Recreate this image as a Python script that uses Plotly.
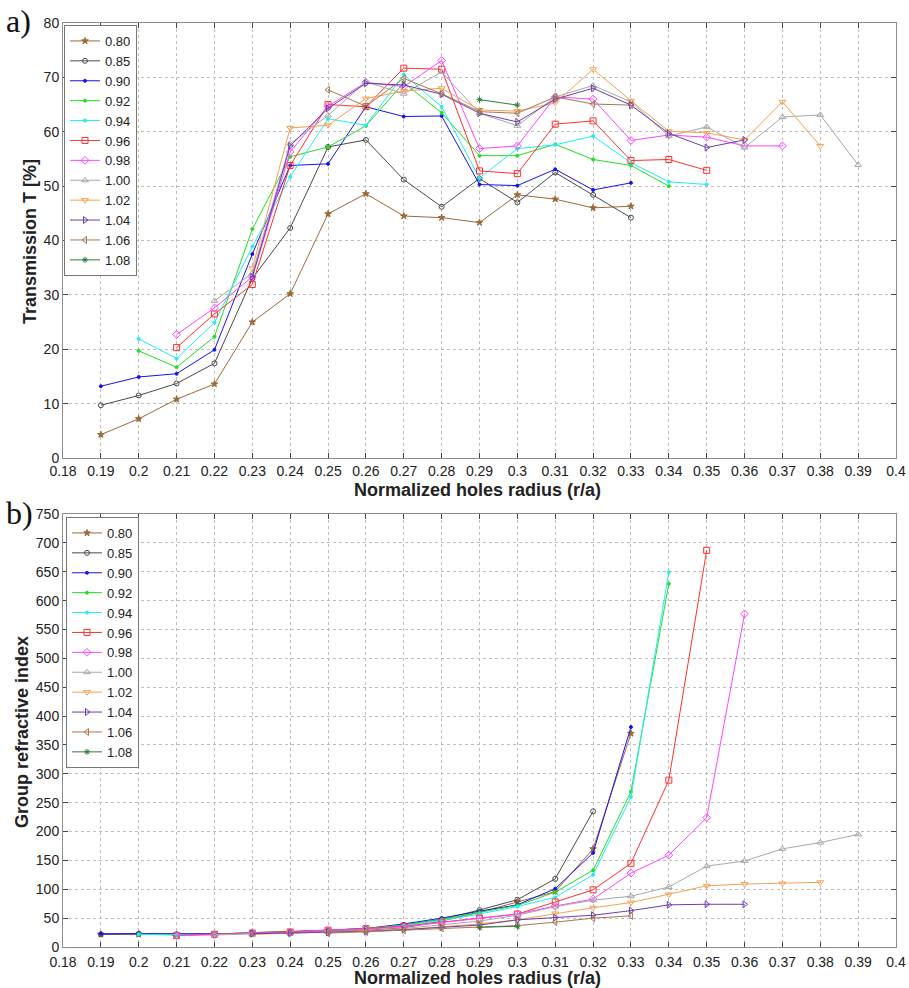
import plotly.graph_objects as go

# ---------------- data ----------------
r_values = [0.19, 0.20, 0.21, 0.22, 0.23, 0.24, 0.25, 0.26, 0.27, 0.28, 0.29,
            0.30, 0.31, 0.32, 0.33, 0.34, 0.35, 0.36, 0.37, 0.38, 0.39]

series_names = ["0.80", "0.85", "0.90", "0.92", "0.94", "0.96", "0.98",
                "1.00", "1.02", "1.04", "1.06", "1.08"]

# (a) Transmission T [%]  -- first radius of each series
T_start = {"0.80": 0.19, "0.85": 0.19, "0.90": 0.19, "0.92": 0.20, "0.94": 0.20,
           "0.96": 0.21, "0.98": 0.21, "1.00": 0.22, "1.02": 0.23, "1.04": 0.23,
           "1.06": 0.25, "1.08": 0.29}
T_080 = [4.3, 7.2, 10.8, 13.6, 25.0, 30.2, 44.9, 48.6, 44.5, 44.2, 43.3, 48.4, 47.6, 46.0, 46.3]
T_085 = [9.7, 11.5, 13.7, 17.4, 33.0, 42.3, 57.2, 58.5, 51.2, 46.2, 51.4, 47.0, 52.5, 48.4, 44.2]
T_090 = [13.2, 14.9, 15.5, 19.9, 37.5, 53.8, 54.1, 64.6, 62.8, 62.9, 50.3, 50.1, 53.1, 49.3, 50.6]
T_092 = [19.7, 16.7, 22.3, 42.1, 55.4, 57.2, 61.1, 69.0, 63.5, 55.6, 55.6, 57.7, 54.9, 53.8, 50.0]
T_094 = [21.9, 18.3, 24.9, 38.9, 51.7, 62.4, 61.2, 70.5, 64.6, 51.5, 56.9, 57.6, 59.2, 54.3, 50.8, 50.3]
T_096 = [20.3, 26.5, 31.9, 53.8, 65.0, 64.6, 71.7, 71.5, 52.8, 52.3, 61.4, 62.0, 54.7, 54.9, 52.9]
T_098 = [22.7, 27.6, 33.3, 56.3, 64.7, 69.1, 68.3, 73.1, 56.9, 57.4, 66.4, 66.0, 58.4, 59.4, 59.0, 57.4, 57.4]
T_100 = [28.9, 34.0, 57.8, 63.0, 69.2, 67.0, 71.0, 63.4, 61.1, 66.4, 68.5, 65.5, 59.2, 60.9, 57.1, 62.7, 63.1, 53.9]
T_102 = [34.9, 60.7, 61.2, 66.1, 67.5, 68.0, 64.0, 63.8, 65.3, 71.5, 65.7, 60.1, 59.8, 58.5, 65.5, 57.4]
T_104 = [33.3, 57.4, 64.3, 68.9, 68.6, 66.9, 63.4, 61.8, 66.0, 68.0, 64.9, 59.7, 57.1, 58.5]
T_106 = [67.7, 64.7, 69.8, 67.0, 63.7, 63.4, 66.4, 65.1, 64.9]
T_108 = [65.9, 64.9]

# (b) Group refractive index
N_start = {"0.80": 0.19, "0.85": 0.19, "0.90": 0.19, "0.92": 0.20, "0.94": 0.20,
           "0.96": 0.21, "0.98": 0.21, "1.00": 0.22, "1.02": 0.23, "1.04": 0.23,
           "1.06": 0.25, "1.08": 0.29}
N_080 = [22, 22, 21, 22, 24, 25, 27, 29, 33, 45, 60, 78, 96, 170, 370]
N_085 = [22, 23, 22, 22, 25, 26, 28, 31, 38, 48, 64, 82, 118, 235]
N_090 = [23, 23, 22, 23, 24, 27, 29, 32, 40, 50, 62, 73, 101, 163, 381]
N_092 = [22, 21, 22, 25, 26, 29, 32, 38, 48, 60, 72, 95, 133, 269, 629]
N_094 = [22, 21, 22, 25, 26, 28, 31, 37, 46, 57, 70, 86, 125, 260, 649]
N_096 = [20, 22, 24, 26, 29, 32, 36, 43, 50, 57, 78, 99, 145, 289, 687]
N_098 = [20, 21, 24, 25, 29, 31, 35, 42, 49, 57, 71, 83, 128, 159, 224, 577]
N_100 = [21, 22, 24, 26, 28, 32, 38, 45, 55, 70, 81, 88, 104, 140, 149, 170, 181, 195]
N_102 = [22, 24, 25, 27, 30, 35, 40, 47, 58, 68, 77, 91, 106, 109, 110, 112]
N_104 = [23, 24, 25, 27, 30, 34, 38, 47, 51, 55, 63, 73, 74, 74]
N_106 = [24, 26, 29, 32, 35, 37, 43, 50, 54]
N_108 = [34, 36]

T_data = [T_080, T_085, T_090, T_092, T_094, T_096, T_098, T_100, T_102, T_104, T_106, T_108]
N_data = [N_080, N_085, N_090, N_092, N_094, N_096, N_098, N_100, N_102, N_104, N_106, N_108]

x_tick_vals = [0.18, 0.19, 0.20, 0.21, 0.22, 0.23, 0.24, 0.25, 0.26, 0.27, 0.28,
               0.29, 0.30, 0.31, 0.32, 0.33, 0.34, 0.35, 0.36, 0.37, 0.38, 0.39, 0.40]
x_tick_text = ["0.18", "0.19", "0.2", "0.21", "0.22", "0.23", "0.24", "0.25", "0.26",
               "0.27", "0.28", "0.29", "0.3", "0.31", "0.32", "0.33", "0.34", "0.35",
               "0.36", "0.37", "0.38", "0.39", "0.4"]
T_ticks = [0, 10, 20, 30, 40, 50, 60, 70, 80]
N_ticks = [0, 50, 100, 150, 200, 250, 300, 350, 400, 450, 500, 550, 600, 650, 700, 750]

# ---------------- styles ----------------
colors = ["#9C6A3A", "#4A4A4A", "#1414F0", "#22DD22", "#22EEEE", "#FF3030",
          "#FF44FF", "#A8A8A8", "#F5A050", "#6A3DB0", "#A87850", "#2E7D3A"]
symbols = ["star", "circle-open", "circle", "circle", "circle", "square-open",
           "diamond-open", "triangle-up-open", "triangle-down-open",
           "triangle-right-open", "triangle-left-open", "asterisk-open"]
sizes = [5, 5, 3, 3, 3, 6, 6, 6, 6, 6, 6, 5]


def xs_for(start, n):
    i0 = r_values.index(start)
    return r_values[i0:i0 + n]


fig = go.Figure()
for k, name in enumerate(series_names):
    ys = T_data[k]
    fig.add_trace(go.Scatter(
        x=xs_for(T_start[name], len(ys)), y=ys, name=name, mode="lines+markers",
        line=dict(color=colors[k], width=1),
        marker=dict(symbol=symbols[k], size=sizes[k], color=colors[k],
                    line=dict(color=colors[k], width=1)),
        xaxis="x", yaxis="y", legend="legend"))
for k, name in enumerate(series_names):
    ys = N_data[k]
    fig.add_trace(go.Scatter(
        x=xs_for(N_start[name], len(ys)), y=ys, name=name, mode="lines+markers",
        line=dict(color=colors[k], width=1),
        marker=dict(symbol=symbols[k], size=sizes[k], color=colors[k],
                    line=dict(color=colors[k], width=1)),
        xaxis="x2", yaxis="y2", legend="legend2"))

W, H = 909, 988
x_dom = [63 / W, 896 / W]
ya_dom = [1 - 458 / H, 1 - 23 / H]
yb_dom = [1 - 947 / H, 1 - 514 / H]

font_main = "Liberation Sans, Arial, sans-serif"
axis_common = dict(
    showline=True, linecolor="#8C8C8C", linewidth=1, mirror="ticks",
    ticks="inside", ticklen=5, tickcolor="#444444",
    showgrid=True, gridcolor="#BDBDBD", griddash="dot", gridwidth=1,
    zeroline=False, automargin=False,
    tickfont=dict(family=font_main, size=14, color="#222222"),
)

legend_common = dict(
    xanchor="left", yanchor="top",
    bgcolor="white", bordercolor="#777777", borderwidth=1,
    font=dict(family=font_main, size=13, color="#222222"),
    itemwidth=30, tracegroupgap=0,
)

fig.update_layout(
    width=W, height=H,
    margin=dict(l=0, r=0, t=0, b=0),
    paper_bgcolor="white", plot_bgcolor="white",
    font=dict(family=font_main, color="#222222"),
    xaxis=dict(domain=x_dom, anchor="y", range=[0.18, 0.40],
               tickvals=x_tick_vals, ticktext=x_tick_text, **axis_common),
    yaxis=dict(domain=ya_dom, anchor="x", range=[0, 80], tickvals=T_ticks, **axis_common),
    xaxis2=dict(domain=x_dom, anchor="y2", range=[0.18, 0.40], ticklabelstandoff=2,
                tickvals=x_tick_vals, ticktext=x_tick_text, **axis_common),
    yaxis2=dict(domain=yb_dom, anchor="x2", range=[0, 750], tickvals=N_ticks, **axis_common),
    legend=dict(x=64 / W, y=1 - 25 / H, **legend_common),
    legend2=dict(x=66 / W, y=1 - 517 / H, **legend_common),
    showlegend=True,
)

title_font = dict(family=font_main, size=18, color="#222222")
ann = [
    dict(text="a)", x=4 / W, y=1 - 21 / H, xanchor="left", yanchor="middle",
         font=dict(family="Liberation Serif, Times New Roman, serif", size=32, color="#111111")),
    dict(text="b)", x=4 / W, y=1 - 513 / H, xanchor="left", yanchor="middle",
         font=dict(family="Liberation Serif, Times New Roman, serif", size=32, color="#111111")),
    dict(text="<b>Transmission T [%]</b>", x=30 / W, y=1 - 242 / H, textangle=-90,
         xanchor="center", yanchor="middle", font=title_font),
    dict(text="<b>Normalized holes radius (r/a)</b>", x=477 / W, y=1 - 490 / H,
         xanchor="center", yanchor="middle", font=title_font),
    dict(text="<b>Group refractive index</b>", x=22 / W, y=1 - 732 / H, textangle=-90,
         xanchor="center", yanchor="middle", font=title_font),
    dict(text="<b>Normalized holes radius (r/a)</b>", x=477 / W, y=1 - 978 / H,
         xanchor="center", yanchor="middle", font=title_font),
]
for a in ann:
    a.update(xref="paper", yref="paper", showarrow=False)
fig.update_layout(annotations=ann)

fig.write_html("out.html")
